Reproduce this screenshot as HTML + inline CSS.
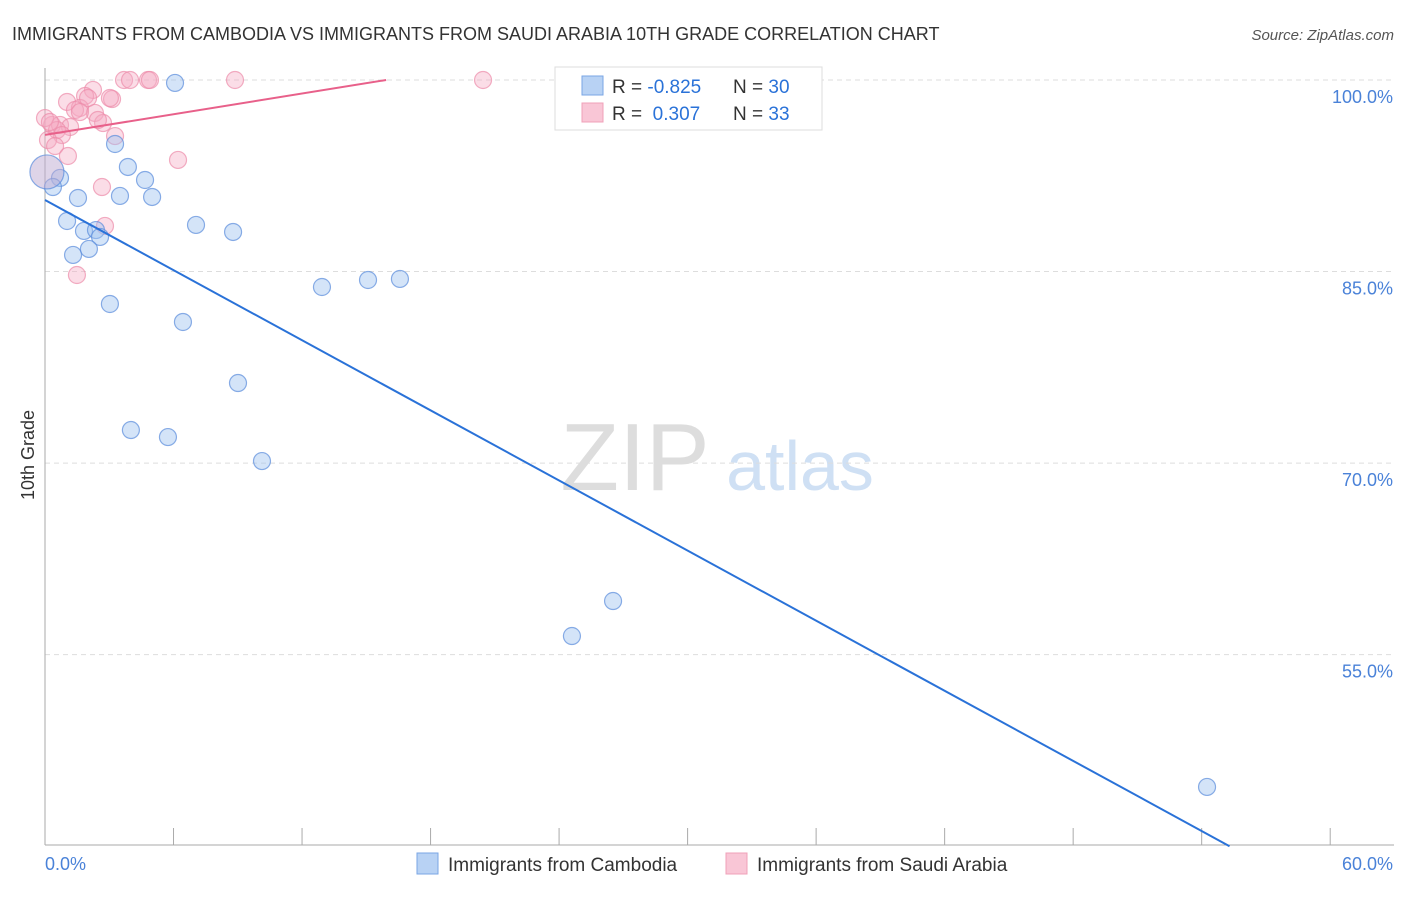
<!DOCTYPE html>
<html><head><meta charset="utf-8"><style>
body{margin:0;background:#fff;font-family:"Liberation Sans",sans-serif;}
svg text{font-family:"Liberation Sans",sans-serif;}
</style></head><body>
<svg id="c" width="1406" height="892" xmlns="http://www.w3.org/2000/svg">
<text x="12" y="40" font-size="18" fill="#333">IMMIGRANTS FROM CAMBODIA VS IMMIGRANTS FROM SAUDI ARABIA 10TH GRADE CORRELATION CHART</text>
<text x="1394" y="40" font-size="15" fill="#555" font-style="italic" text-anchor="end">Source: ZipAtlas.com</text>
<text x="635" y="490" font-size="96" fill="#ddd" font-family="Liberation Serif" text-anchor="middle">ZIP</text>
<text x="800" y="490" font-size="70" fill="#cfe0f4" text-anchor="middle">atlas</text>
<text transform="translate(34,455) rotate(-90)" font-size="18" fill="#333" text-anchor="middle">10th Grade</text>
<g id="grid"></g><g id="pts"></g><g id="lines"></g>
<g>
<rect x="555" y="67" width="267" height="63" fill="#fff" stroke="#ddd"/>
<rect x="582" y="76" width="21" height="19" fill="#b8d2f4" stroke="#7aa6e4"/>
<text x="612" y="93" font-size="19" fill="#333">R = <tspan fill="#2a72d8">-0.825</tspan></text>
<text x="733" y="93" font-size="19" fill="#333">N = <tspan fill="#2a72d8">30</tspan></text>
<rect x="582" y="103" width="21" height="19" fill="#f9c6d6" stroke="#f0a0b8"/>
<text x="612" y="120" font-size="19" fill="#333">R = <tspan fill="#2a72d8">&#160;0.307</tspan></text>
<text x="733" y="120" font-size="19" fill="#333">N = <tspan fill="#2a72d8">33</tspan></text>
</g>
<g>
<rect x="417" y="853" width="21" height="21" fill="#b8d2f4" stroke="#7aa6e4"/>
<text x="448" y="871" font-size="19" fill="#333">Immigrants from Cambodia</text>
<rect x="726" y="853" width="21" height="21" fill="#f9c6d6" stroke="#f0a0b8"/>
<text x="757" y="871" font-size="19" fill="#333">Immigrants from Saudi Arabia</text>
</g>
</svg>
<script>
const yTicks=[100,85,70,55];
const xTickLabels=["0.0%","60.0%"];
const blueX=[6.07,3.27,3.87,4.67,0.70,0.37,1.54,3.50,5.00,1.03,1.82,2.38,2.57,7.05,8.78,1.31,2.05,3.03,12.93,15.08,16.57,6.44,9.01,4.01,5.74,10.13,26.52,24.60,54.25,0.09];
const blueY=[99.77,94.99,93.19,92.17,92.33,91.62,90.76,90.92,90.84,88.96,88.18,88.25,87.71,88.65,88.10,86.30,86.77,82.46,83.79,84.34,84.42,81.05,76.27,72.59,72.04,70.16,59.20,56.46,44.64,92.80];
const pinkX=[3.69,4.81,4.90,8.87,20.45,2.24,1.87,3.13,1.03,1.63,2.01,1.40,2.33,2.71,3.27,0.33,0.70,1.17,0.56,0.79,0.14,0.47,1.07,6.21,2.66,2.80,1.49,0,0.23,2.47,3.97,1.63,3.03];
const pinkY=[100,100,100,100,100,99.22,98.75,98.51,98.28,97.81,98.59,97.65,97.42,96.63,95.61,96.48,96.48,96.32,96.08,95.69,95.30,94.83,94.05,93.74,91.62,88.57,84.73,97.02,96.71,96.87,100,97.49,98.59];
const blueTrend=[90.6,-0.915];
const pinkTrend=[95.7,0.27];
const NS="http://www.w3.org/2000/svg";
const X=v=>45+v*21.42, Y=v=>80+(100-v)*12.77;
function mk(t,a,p){const e=document.createElementNS(NS,t);for(const k in a)e.setAttribute(k,a[k]);p.appendChild(e);return e;}
const g=document.getElementById('grid');
yTicks.forEach(t=>{
 const l=mk('line',{x1:45,x2:1394,y1:Y(t),y2:Y(t),stroke:'#ddd','stroke-dasharray':'5,4'},g);
 
 
 const tx=mk('text',{x:1393,y:Y(t)+23,'font-size':18,fill:'#4a82d8','text-anchor':'end'},g);
 tx.textContent=t.toFixed(1)+'%';
 
 
});
const ax=mk('line',{x1:45,x2:45,y1:68,y2:845,stroke:'#aaa'},g);


const bx=mk('line',{x1:45,x2:1394,y1:845,y2:845,stroke:'#aaa'},g);


for(let i=0;i<=10;i++){const t=mk('line',{x1:X(i*6),x2:X(i*6),y1:828,y2:845,stroke:'#aaa'},g);
 
 }
[[0,'start',45],[60,'end',1393]].forEach((d,i)=>{const t=mk('text',{x:d[2],y:870,'font-size':18,fill:'#4a82d8','text-anchor':d[1]},g);t.textContent=xTickLabels[i];
 
 });
const p=document.getElementById('pts');
pinkX.forEach((x,i)=>{const c=mk('circle',{cx:X(x),cy:Y(pinkY[i]),r:8.5,fill:'rgba(246,170,195,0.4)',stroke:'rgba(236,140,170,0.7)','stroke-width':1.2},p);
 
 });
blueX.forEach((x,i)=>{const c=mk('circle',{cx:X(x),cy:Y(blueY[i]),r:i==29?17:8.5,fill:i==29?'rgba(190,170,210,0.5)':'rgba(160,196,240,0.45)',stroke:'rgba(90,140,220,0.7)','stroke-width':1.2},p);
 
 });
const L=document.getElementById('lines');
const bEnd=(40-blueTrend[0])/blueTrend[1];
const bl=mk('line',{x1:X(0),y1:Y(blueTrend[0]),x2:X(bEnd),y2:Y(40),stroke:'#2a72d8','stroke-width':2},L);


const pEnd=(100-pinkTrend[0])/pinkTrend[1];
const pl=mk('line',{x1:X(0),y1:Y(pinkTrend[0]),x2:X(pEnd),y2:Y(100),stroke:'#e8608a','stroke-width':2},L);


</script>
</body></html>
